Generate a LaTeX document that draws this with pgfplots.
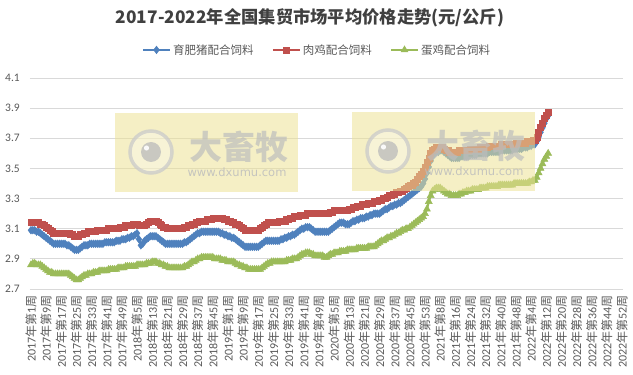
\documentclass[border=0pt]{standalone}
\usepackage{fontspec}
\setmainfont{Carlito}
\newfontfamily\cjk{Noto Sans CJK SC}
\newfontfamily\wmfont{DejaVu Sans}
\usepackage{pgfplots}
\usepackage{pgfplotstable}
\pgfplotsset{compat=1.18}
\definecolor{cB}{HTML}{4F81BD}
\definecolor{cR}{HTML}{C0504D}
\definecolor{cG}{HTML}{9BBB59}
\definecolor{gridc}{HTML}{D9D9D9}
\definecolor{txt}{HTML}{595959}
\definecolor{ttl}{HTML}{404040}
\definecolor{wmY}{HTML}{ECE295}
\definecolor{wmG}{HTML}{BDBDBD}
\newcommand{\wk}[2]{#1{\cjk 年第}#2{\cjk 周}}

% 育肥猪配合饲料
\pgfplotstableread[row sep=\\,header=false]{
3.09\\3.09\\3.09\\3.08\\3.08\\3.07\\3.06\\3.05\\3.04\\3.03\\
3.02\\3.01\\3.00\\3.00\\3.00\\3.00\\3.00\\3.00\\3.00\\2.99\\
2.99\\2.98\\2.97\\2.96\\2.96\\2.96\\2.97\\2.98\\2.99\\2.99\\
2.99\\3.00\\3.00\\3.00\\3.00\\3.00\\3.00\\3.00\\3.00\\3.01\\
3.01\\3.01\\3.01\\3.01\\3.01\\3.02\\3.02\\3.02\\3.03\\3.03\\
3.03\\3.04\\3.04\\3.05\\3.05\\3.06\\3.07\\3.03\\2.99\\3.00\\
3.02\\3.03\\3.04\\3.05\\3.05\\3.05\\3.05\\3.04\\3.03\\3.02\\
3.01\\3.00\\3.00\\3.00\\3.00\\3.00\\3.00\\3.00\\3.00\\3.00\\
3.00\\3.01\\3.01\\3.02\\3.03\\3.04\\3.05\\3.06\\3.07\\3.07\\
3.08\\3.08\\3.08\\3.08\\3.08\\3.08\\3.08\\3.08\\3.08\\3.08\\
3.07\\3.07\\3.06\\3.06\\3.05\\3.05\\3.04\\3.04\\3.03\\3.02\\
3.01\\3.00\\2.99\\2.98\\2.98\\2.98\\2.98\\2.98\\2.98\\2.98\\
2.98\\2.99\\3.00\\3.01\\3.02\\3.02\\3.02\\3.02\\3.02\\3.02\\
3.02\\3.02\\3.03\\3.03\\3.04\\3.04\\3.05\\3.05\\3.06\\3.06\\
3.07\\3.08\\3.09\\3.10\\3.10\\3.11\\3.11\\3.11\\3.10\\3.09\\
3.08\\3.08\\3.08\\3.08\\3.08\\3.08\\3.08\\3.08\\3.09\\3.10\\
3.11\\3.12\\3.13\\3.14\\3.14\\3.14\\3.13\\3.13\\3.13\\3.14\\
3.15\\3.15\\3.16\\3.16\\3.17\\3.17\\3.17\\3.18\\3.18\\3.19\\
3.19\\3.20\\3.20\\3.20\\3.20\\3.21\\3.22\\3.23\\3.23\\3.24\\
3.25\\3.25\\3.26\\3.26\\3.27\\3.27\\3.28\\3.29\\3.30\\3.31\\
3.32\\3.33\\3.34\\3.35\\3.36\\3.37\\3.38\\3.40\\3.43\\3.47\\
3.51\\3.55\\3.58\\3.60\\3.61\\3.61\\3.62\\3.62\\3.61\\3.60\\
3.59\\3.58\\3.57\\3.57\\3.57\\3.57\\3.57\\3.58\\3.58\\3.58\\
3.58\\3.58\\3.59\\3.59\\3.59\\3.59\\3.60\\3.60\\3.60\\3.60\\
3.60\\3.60\\3.61\\3.61\\3.61\\3.61\\3.61\\3.61\\3.62\\3.62\\
3.62\\3.62\\3.62\\3.62\\3.62\\3.63\\3.63\\3.63\\3.63\\3.63\\
3.64\\3.64\\3.64\\3.65\\3.65\\3.66\\3.66\\3.68\\3.71\\3.74\\
3.77\\3.80\\3.83\\3.85\\
}\tB

% 肉鸡配合饲料
\pgfplotstableread[row sep=\\,header=false]{
3.14\\3.14\\3.14\\3.14\\3.14\\3.13\\3.13\\3.12\\3.11\\3.10\\
3.09\\3.08\\3.07\\3.07\\3.07\\3.07\\3.07\\3.07\\3.07\\3.07\\
3.07\\3.06\\3.06\\3.05\\3.05\\3.05\\3.06\\3.06\\3.07\\3.07\\
3.08\\3.08\\3.08\\3.08\\3.08\\3.09\\3.09\\3.09\\3.09\\3.09\\
3.09\\3.10\\3.10\\3.10\\3.10\\3.10\\3.10\\3.11\\3.11\\3.11\\
3.12\\3.12\\3.12\\3.12\\3.13\\3.13\\3.13\\3.12\\3.12\\3.12\\
3.12\\3.13\\3.14\\3.15\\3.15\\3.15\\3.15\\3.14\\3.13\\3.12\\
3.11\\3.11\\3.10\\3.10\\3.10\\3.10\\3.10\\3.10\\3.10\\3.10\\
3.10\\3.11\\3.11\\3.12\\3.12\\3.13\\3.13\\3.14\\3.14\\3.15\\
3.15\\3.15\\3.15\\3.16\\3.16\\3.16\\3.17\\3.17\\3.17\\3.17\\
3.17\\3.17\\3.16\\3.16\\3.15\\3.15\\3.14\\3.14\\3.13\\3.13\\
3.12\\3.11\\3.10\\3.09\\3.09\\3.09\\3.09\\3.09\\3.09\\3.09\\
3.09\\3.10\\3.11\\3.12\\3.13\\3.14\\3.14\\3.14\\3.14\\3.14\\
3.14\\3.15\\3.15\\3.15\\3.15\\3.16\\3.16\\3.17\\3.17\\3.18\\
3.18\\3.18\\3.19\\3.19\\3.19\\3.19\\3.20\\3.20\\3.20\\3.20\\
3.20\\3.20\\3.20\\3.20\\3.20\\3.20\\3.20\\3.20\\3.21\\3.21\\
3.22\\3.22\\3.22\\3.22\\3.22\\3.22\\3.22\\3.22\\3.23\\3.23\\
3.24\\3.24\\3.25\\3.25\\3.25\\3.26\\3.26\\3.26\\3.27\\3.27\\
3.27\\3.28\\3.28\\3.28\\3.29\\3.29\\3.30\\3.30\\3.31\\3.32\\
3.32\\3.33\\3.33\\3.34\\3.34\\3.35\\3.35\\3.36\\3.37\\3.38\\
3.39\\3.39\\3.40\\3.41\\3.43\\3.45\\3.46\\3.48\\3.51\\3.54\\
3.57\\3.60\\3.62\\3.63\\3.64\\3.64\\3.64\\3.64\\3.63\\3.62\\
3.62\\3.61\\3.61\\3.61\\3.61\\3.61\\3.62\\3.62\\3.62\\3.62\\
3.62\\3.62\\3.63\\3.63\\3.63\\3.63\\3.63\\3.64\\3.64\\3.64\\
3.64\\3.64\\3.65\\3.65\\3.65\\3.65\\3.65\\3.65\\3.66\\3.66\\
3.66\\3.66\\3.66\\3.66\\3.66\\3.66\\3.67\\3.67\\3.67\\3.67\\
3.67\\3.67\\3.68\\3.68\\3.68\\3.69\\3.69\\3.71\\3.74\\3.77\\
3.80\\3.83\\3.85\\3.87\\
}\tR

% 蛋鸡配合饲料
\pgfplotstableread[row sep=\\,header=false]{
2.86\\2.87\\2.87\\2.86\\2.86\\2.86\\2.85\\2.84\\2.83\\2.82\\
2.81\\2.81\\2.80\\2.80\\2.80\\2.80\\2.80\\2.80\\2.80\\2.80\\
2.80\\2.79\\2.78\\2.77\\2.76\\2.76\\2.77\\2.78\\2.79\\2.79\\
2.80\\2.80\\2.80\\2.81\\2.81\\2.81\\2.82\\2.82\\2.82\\2.82\\
2.82\\2.83\\2.83\\2.83\\2.83\\2.83\\2.84\\2.84\\2.84\\2.84\\
2.85\\2.85\\2.85\\2.85\\2.85\\2.85\\2.86\\2.86\\2.86\\2.86\\
2.86\\2.87\\2.87\\2.87\\2.88\\2.88\\2.88\\2.87\\2.87\\2.86\\
2.86\\2.85\\2.85\\2.84\\2.84\\2.84\\2.84\\2.84\\2.84\\2.84\\
2.84\\2.85\\2.85\\2.86\\2.87\\2.88\\2.88\\2.89\\2.90\\2.90\\
2.91\\2.91\\2.91\\2.91\\2.91\\2.91\\2.91\\2.90\\2.90\\2.90\\
2.90\\2.89\\2.89\\2.89\\2.88\\2.88\\2.88\\2.88\\2.87\\2.86\\
2.86\\2.85\\2.85\\2.84\\2.84\\2.83\\2.83\\2.83\\2.83\\2.83\\
2.83\\2.83\\2.84\\2.85\\2.86\\2.87\\2.87\\2.88\\2.88\\2.88\\
2.88\\2.88\\2.88\\2.88\\2.88\\2.89\\2.89\\2.89\\2.90\\2.90\\
2.90\\2.91\\2.92\\2.93\\2.93\\2.94\\2.94\\2.94\\2.93\\2.93\\
2.92\\2.92\\2.92\\2.92\\2.92\\2.91\\2.91\\2.92\\2.93\\2.93\\
2.94\\2.94\\2.94\\2.95\\2.95\\2.95\\2.95\\2.96\\2.96\\2.96\\
2.96\\2.96\\2.97\\2.97\\2.97\\2.97\\2.97\\2.97\\2.98\\2.98\\
2.98\\2.98\\2.99\\3.00\\3.01\\3.02\\3.02\\3.03\\3.04\\3.04\\
3.05\\3.05\\3.06\\3.07\\3.07\\3.08\\3.09\\3.09\\3.10\\3.10\\
3.11\\3.12\\3.13\\3.14\\3.15\\3.16\\3.17\\3.18\\3.20\\3.23\\
3.28\\3.32\\3.35\\3.36\\3.37\\3.37\\3.37\\3.36\\3.35\\3.34\\
3.33\\3.33\\3.32\\3.32\\3.32\\3.32\\3.33\\3.33\\3.34\\3.34\\
3.35\\3.35\\3.35\\3.36\\3.36\\3.36\\3.36\\3.37\\3.37\\3.37\\
3.37\\3.38\\3.38\\3.38\\3.38\\3.38\\3.38\\3.39\\3.39\\3.39\\
3.39\\3.39\\3.39\\3.39\\3.39\\3.40\\3.40\\3.40\\3.40\\3.40\\
3.40\\3.40\\3.40\\3.41\\3.41\\3.42\\3.42\\3.44\\3.47\\3.50\\
3.53\\3.56\\3.58\\3.60\\
}\tG

\newcommand{\watermark}{%
  \fill[wmY, opacity=0.55] (0pt,0pt) rectangle (183pt,79pt);
  \draw[wmG!80, line width=3.5pt, fill=white, fill opacity=0.3, draw opacity=0.75] (36pt,40pt) circle (21pt);
  \fill[wmG, opacity=0.8] (36pt,40pt) circle (10pt);
  \fill[white, opacity=0.9] (31.5pt,44pt) circle (2.6pt);
  \node[text=wmG, opacity=0.7, font=\cjk\bfseries\fontsize{33}{33}\selectfont, inner sep=0pt] at (124pt,45pt) {大畜牧};
  \node[text=wmG, opacity=0.85, font=\wmfont\fontsize{11.5}{12}\selectfont, inner sep=0pt] at (122pt,20pt) {www.dxumu.com};
}

\begin{document}
\begin{tikzpicture}
\path[use as bounding box] (-30pt,-86pt) rectangle (603pt,289pt);
\begin{axis}[
  at={(0pt,0pt)}, anchor=south west,
  scale only axis, width=593pt, height=211pt,
  xmin=-0.5, xmax=312.5, ymin=2.7, ymax=4.1,
  axis line style={draw=none},
  ymajorgrids, grid style={gridc, line width=0.75pt},
  major tick length=0pt,
  /pgf/number format/assume math mode=true,
  ytick={2.7,2.9,3.1,3.3,3.5,3.7,3.9,4.1},
  yticklabel style={font=\fontsize{11.5}{12}\selectfont, text=txt, inner sep=0pt,
    /pgf/number format/fixed, /pgf/number format/fixed zerofill, /pgf/number format/precision=1},
  yticklabel shift=10pt,
  xtick={0,8,...,312},
  xticklabels={\wk{2017}{1},\wk{2017}{9},\wk{2017}{17},\wk{2017}{25},\wk{2017}{33},\wk{2017}{41},\wk{2017}{49},
    \wk{2018}{5},\wk{2018}{13},\wk{2018}{21},\wk{2018}{29},\wk{2018}{37},\wk{2018}{45},
    \wk{2019}{1},\wk{2019}{9},\wk{2019}{17},\wk{2019}{25},\wk{2019}{33},\wk{2019}{41},\wk{2019}{49},
    \wk{2020}{5},\wk{2020}{13},\wk{2020}{21},\wk{2020}{29},\wk{2020}{37},\wk{2020}{45},\wk{2020}{53},
    \wk{2021}{8},\wk{2021}{16},\wk{2021}{24},\wk{2021}{32},\wk{2021}{40},\wk{2021}{48},
    \wk{2022}{4},\wk{2022}{12},\wk{2022}{20},\wk{2022}{28},\wk{2022}{36},\wk{2022}{44},\wk{2022}{52}},
  xticklabel style={rotate=90, anchor=east, font=\fontsize{12}{12}\selectfont, text=txt, inner sep=0pt},
  xticklabel shift=6pt,
  legend style={at={(0.484,1.133)}, anchor=center, draw=none, fill=none,
    legend columns=3, font=\cjk\fontsize{11.5}{12}\selectfont, text=txt,
    /tikz/every even column/.append style={column sep=16pt}},
  legend image code/.code={\draw[mark repeat=2,mark phase=2,#1] plot coordinates {(0pt,0pt) (13.5pt,0pt) (27pt,0pt)};},
]
\addplot[cB, line width=2.25pt, mark=diamond*, mark size=3.8pt, mark options={line width=0.5pt}]
  table[x expr=\coordindex, y index=0] {\tB};
\addlegendentry{育肥猪配合饲料}
\addplot[cR, line width=2.25pt, mark=square*, mark size=3pt, mark options={line width=0.5pt}]
  table[x expr=\coordindex, y index=0] {\tR};
\addlegendentry{肉鸡配合饲料}
\addplot[cG, line width=2.25pt, mark=triangle*, mark size=4pt, mark options={line width=0.5pt}]
  table[x expr=\coordindex, y index=0] {\tG};
\addlegendentry{蛋鸡配合饲料}
\end{axis}
\begin{scope}[shift={(85pt,97pt)}]\watermark\end{scope}
\begin{scope}[shift={(322pt,98pt)}]\watermark\end{scope}
\node[font=\cjk\bfseries\fontsize{17.3}{18}\selectfont, text=ttl] at (280pt,271pt) {2017-2022年全国集贸市场平均价格走势(元/公斤)};
\end{tikzpicture}
\end{document}
